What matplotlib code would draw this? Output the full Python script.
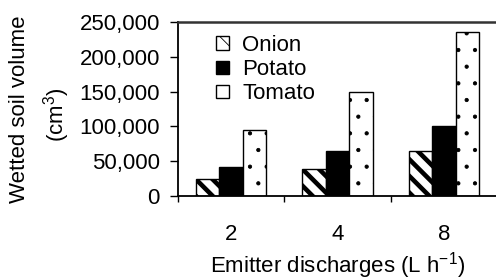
import matplotlib
matplotlib.use("Agg")
import matplotlib.pyplot as plt
import numpy as np

categories = ["2", "4", "8"]
onion = [25000, 39000, 64000]
potato = [41000, 65000, 101000]
tomato = [95000, 149000, 236000]
series_names = ["Onion", "Potato", "Tomato"]
ytick_values = [0, 50000, 100000, 150000, 200000, 250000]
ytick_labels = ["0", "50,000", "100,000", "150,000", "200,000", "250,000"]

plt.rcParams["font.family"] = ["Liberation Sans", "DejaVu Sans"]
plt.rcParams["mathtext.fontset"] = "custom"
plt.rcParams["mathtext.rm"] = "Liberation Sans"
plt.rcParams["mathtext.it"] = "Liberation Sans:italic"
plt.rcParams["mathtext.bf"] = "Liberation Sans:bold"

FS = 16

fig = plt.figure(figsize=(4.96, 2.80), dpi=100)
ax = fig.add_axes([178/496, 1 - 196/280, 319/496, 174/280])

x = np.arange(len(categories))
w = 0.22
plt.rcParams["hatch.linewidth"] = 3.3
b1 = ax.bar(x - w, onion, w, color="white", edgecolor="black", hatch="\\\\", linewidth=1.0, label=series_names[0])
b2 = ax.bar(x, potato, w, color="black", edgecolor="black", linewidth=1.0, label=series_names[1])
plt.rcParams["hatch.linewidth"] = 0.6
b3 = ax.bar(x + w, tomato, w, color="white", edgecolor="black", hatch=".", linewidth=1.0, label=series_names[2])
for p in b1:
    try:
        p.set_hatch_linewidth(3.3)
    except Exception:
        pass
for p in b3:
    try:
        p.set_hatch_linewidth(0.6)
    except Exception:
        pass

ax.set_xlim(-0.5, 2.5)
ax.set_ylim(0, 250000)
ax.set_yticks(ytick_values, ytick_labels, fontsize=FS)
ax.set_xticks(x, categories, fontsize=FS)
ax.set_xticks([-0.5, 0.5, 1.5, 2.5], minor=True)
ax.tick_params(axis="x", which="major", length=0, pad=20)
ax.tick_params(axis="x", which="minor", length=4.5, width=1.0, direction="out")
ax.tick_params(axis="y", length=6, width=1.0, pad=7, direction="out")

ax.spines["right"].set_visible(False)
ax.spines["top"].set_linewidth(1.8)
ax.spines["top"].set_color("#333333")
ax.spines["left"].set_linewidth(1.3)
ax.spines["bottom"].set_linewidth(1.3)

ax.set_xlabel("Emitter discharges (L h$^{-1}$)", fontsize=FS)
ax.xaxis.set_label_coords(0.5, -(266 - 196) / 174)
ax.xaxis.label.set_va("center")

fig.text(20/496, 1 - 109/280, "Wetted soil volume", rotation=90, ha="center", va="center", fontsize=FS)
fig.text(57/496, 1 - 115/280, "(cm$^3$)", rotation=90, ha="center", va="center", fontsize=FS)

leg = ax.legend(loc="upper left", bbox_to_anchor=(0.12, 0.925), frameon=False,
                fontsize=FS, handlelength=0.55, handleheight=0.55, handletextpad=0.62,
                labelspacing=0.14, borderpad=0, borderaxespad=0)

fig.savefig("out.png", dpi=100)
